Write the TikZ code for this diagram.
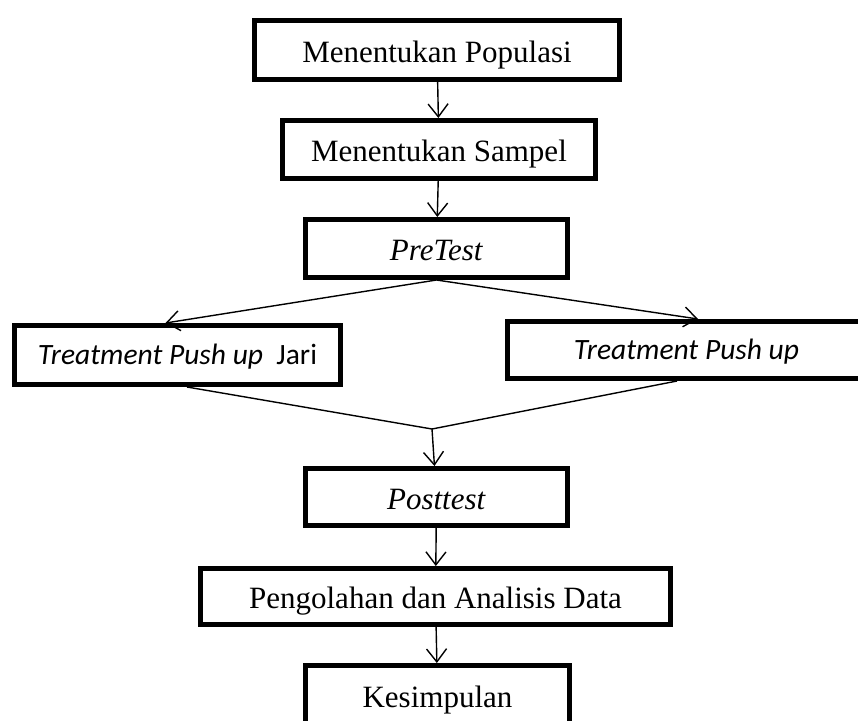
\documentclass[tikz,border=0pt]{standalone}
\usepackage{fontspec}
\setmainfont{Liberation Serif}
\newfontfamily\calibri{Carlito}
\usetikzlibrary{arrows.meta}
\tikzstyle{box}=[draw, line width=5pt, inner sep=0pt, text height=24pt, text depth=0pt, font=\fontsize{31}{36}\selectfont]
\tikzstyle{sbox}=[box, text height=19pt, font=\calibri\fontsize{29.5}{34}\selectfont]
\tikzstyle{edge}=[-{Straight Barb[length=13pt,width=20pt]}, line width=1.4pt]
\tikzstyle{link}=[line width=1.4pt]

\begin{document}
\begin{tikzpicture}[x=1pt, y=-1pt]
	\useasboundingbox (0,0) rectangle (858,720);
	\draw (437,50) node[box, minimum width=365pt, minimum height=59pt] (pop) {Menentukan Populasi};
	\draw (439,149.5) node[box, minimum width=313pt, minimum height=58pt] (sampel) {Menentukan Sampel};
	\draw (436.5,248.5) node[box, minimum width=262pt, minimum height=58pt] (pre) {\textit{PreTest}};
	\draw (177.5,355) node[sbox, minimum width=326pt, minimum height=59pt] (jari) {\textit{Treatment Push up}\ \ Jari};
	\draw (686.5,350) node[sbox, minimum width=358pt, minimum height=57pt] (push) {\textit{Treatment Push up}};
	\draw (436.5,497) node[box, minimum width=262pt, minimum height=57pt] (post) {\textit{Posttest}};
	\draw (435.5,596.5) node[box, minimum width=470pt, minimum height=56pt] (olah) {Pengolahan dan Analisis Data};
	\draw (437.5,695) node[box, minimum width=264pt, minimum height=59pt] (simpul) {Kesimpulan};
	\coordinate (merge) at (432,429);
	% alur utama
	\draw[edge] (pop) -- (sampel);
	\draw[edge] (sampel) -- (pre);
	\draw[edge] (pre.south) -- ([xshift=-12pt]jari.north);
	\draw[edge] (pre.south) -- ([xshift=11.5pt]push.north);
	\draw[link] ([xshift=9.5pt]jari.south) -- (merge) -- ([xshift=-9.5pt]push.south);
	\draw[edge] (merge) -- (post);
	\draw[edge] (post) -- (olah);
	\draw[edge] (olah) -- (simpul);
\end{tikzpicture}
\end{document}
